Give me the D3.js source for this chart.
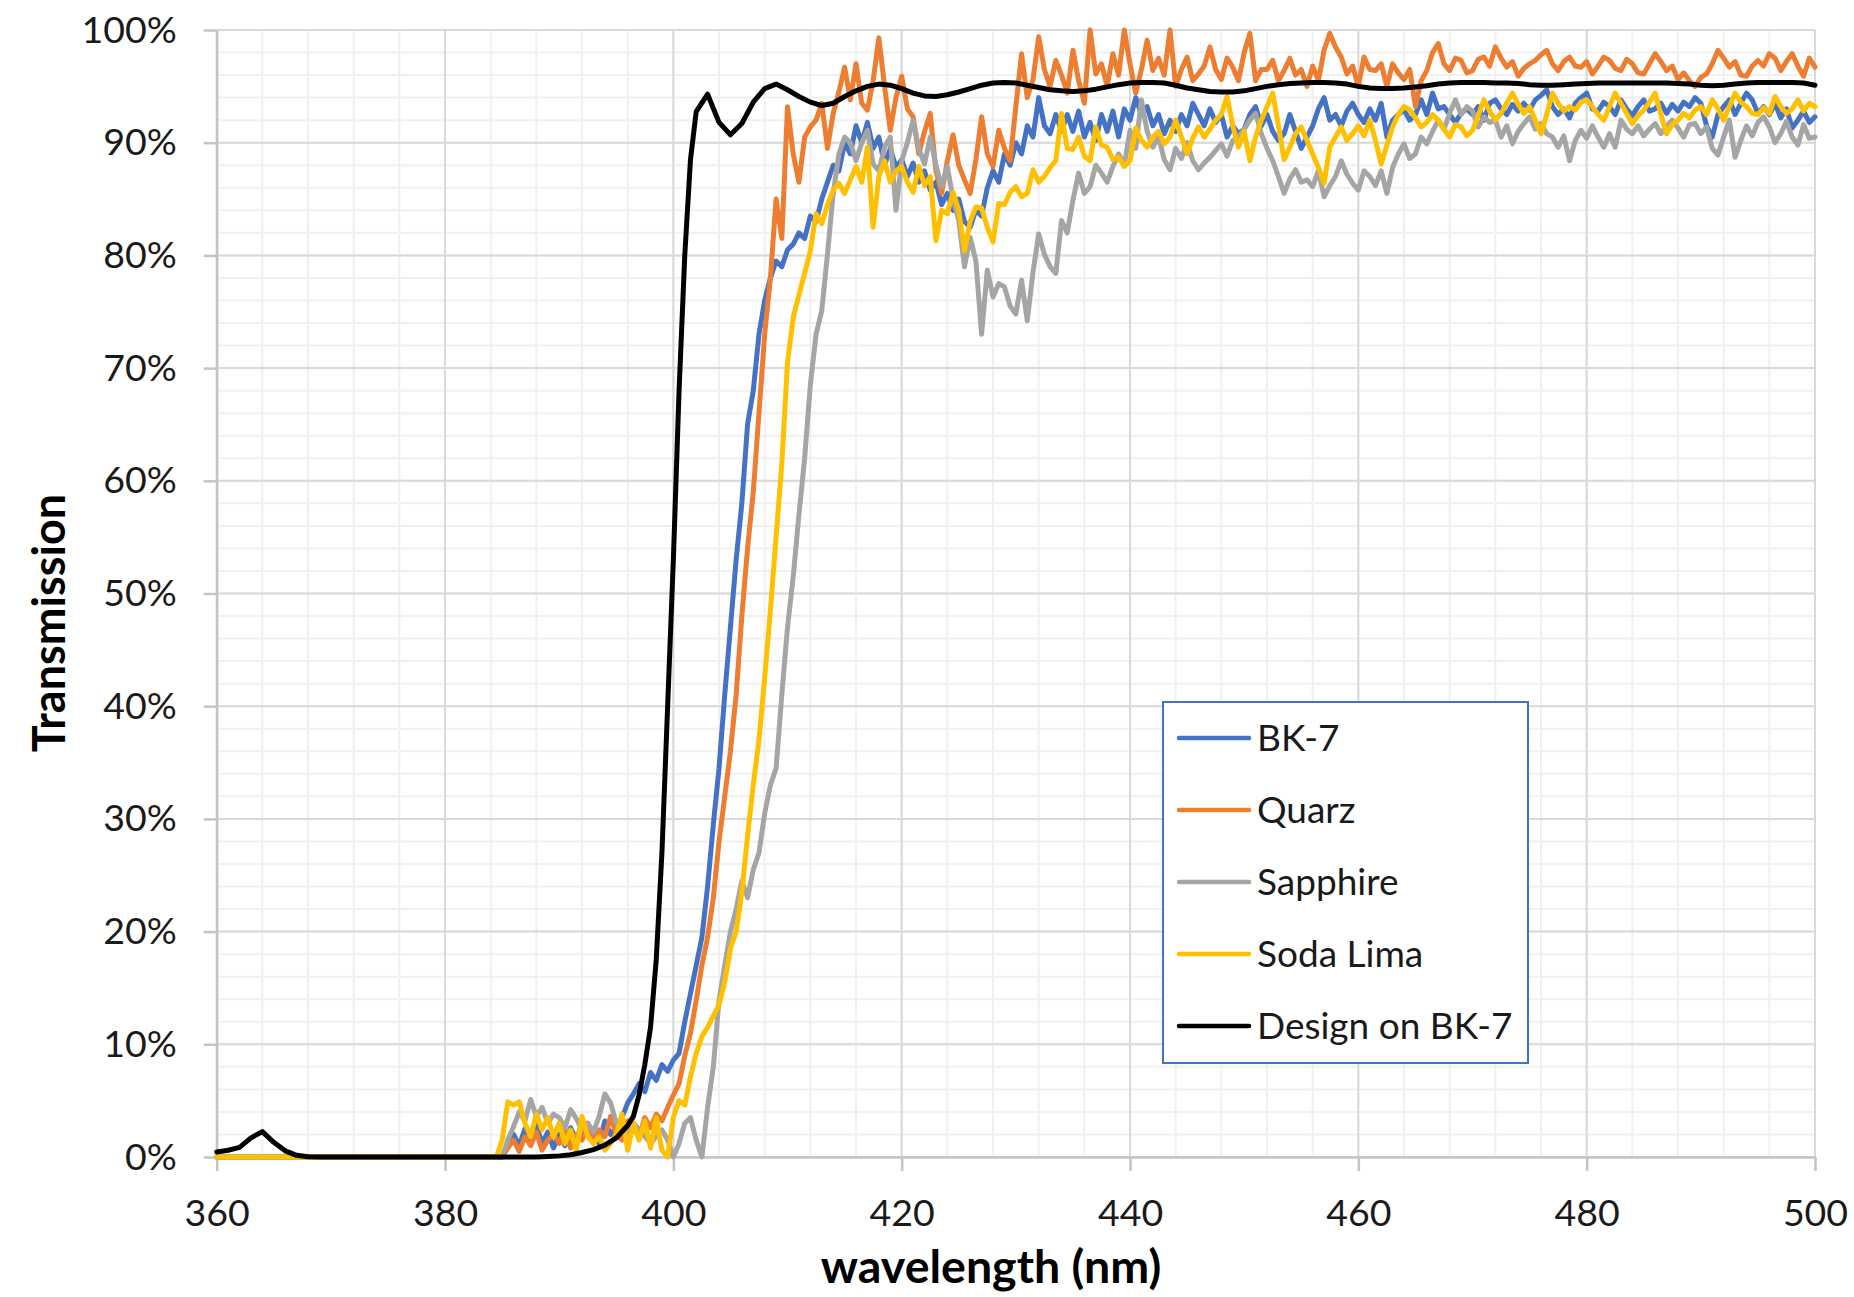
<!DOCTYPE html>
<html><head><meta charset="utf-8">
<script src="https://cdn.jsdelivr.net/npm/d3@7"></script>
<style>html,body{margin:0;padding:0;background:#fff;} svg{display:block}</style>
</head><body>
<svg id="chart" width="1854" height="1297"></svg>
<script>
// ---------------- DATA ----------------
const seriesNames = ["BK-7", "Quarz", "Sapphire", "Soda Lima", "Design on BK-7"];
const seriesColors = ["#4472C4", "#ED7D31", "#A5A5A5", "#FFC000", "#000000"];
const xTickValues = [360, 380, 400, 420, 440, 460, 480, 500];
const yTickValues = [0, 10, 20, 30, 40, 50, 60, 70, 80, 90, 100];

// measured spectra: 360 nm, 384.5 nm, then 385 ... 500 nm every 0.5 nm
const measuredWave = [360, 384.5].concat(d3.range(385, 500.001, 0.5));

const bk7 = [0, 0,
 0, 1.2, 2.0, 1.0, 2.5, 1.5, 2.8, 1.2, 2.2, 0.8,
 2.0, 1.0, 2.6, 1.5, 3.0, 1.8, 2.4, 1.2, 3.2, 2.0,
 2.6, 3.5, 4.8, 5.6, 6.5, 5.8, 7.5, 6.8, 8.2, 7.6,
 8.6, 9.2, 12, 14.5, 17, 19.5, 24, 29.5, 34.5, 41,
 47, 53, 58, 65, 68, 73, 76, 78, 79.5, 79,
 80.5, 81, 82, 81.5, 83.5, 83, 85, 86.5, 88, 87.5,
 90, 89, 91.5, 90, 91.8, 89.5, 90.5, 88, 89.5, 87.8,
 88.5, 87, 88.2, 86.5, 87.5, 85.8, 86.5, 84.5, 85.5, 84,
 85, 83, 82.5, 84, 83.5, 86, 87.5, 86.5, 89, 88,
 90, 89, 91.5, 90.5, 94, 91.5, 90.8, 92.5, 91, 92.5,
 91, 92.8, 90.5, 91.8, 90.2, 92.5, 91, 92.8, 90.5, 93,
 92, 94, 92.5, 93.2, 91.5, 92.5, 90.8, 92, 91, 92.5,
 91.5, 93.5, 92.5, 91.5, 93, 91.8, 92.5, 90.5, 91.5, 90.8,
 91.2, 92.5, 93.2, 91.5, 92.5, 91, 90.2, 90.8, 92.5, 91,
 89.5, 90.5, 91.5, 93, 94, 92, 92.5, 91.5, 92.8, 93.5,
 92.5, 91.8, 93, 92, 93.5, 90.5, 92, 92.5, 92.9, 92,
 92.5, 93.8, 92.5, 94.4, 93, 93.2, 92.5, 91.8, 92.6, 93,
 92.5, 93.2, 92, 93.5, 93.8, 93, 92.5, 93.4, 92.8, 93.5,
 92.9, 93.8, 94.2, 94.7, 93.2, 92.5, 93, 92.2, 93.5, 94,
 94.4, 93, 92.8, 93.6, 93.2, 92.5, 93.8, 93, 92.4, 93.2,
 93.8, 92.8, 93, 93.5, 92.6, 93.4, 92.8, 93.6, 93.2, 94,
 93.5, 91.5, 90.5, 92.5, 93.2, 93.8, 92.5, 93.5, 94.4, 93.8,
 92.6, 93.2, 92.5, 93.5, 92.2, 93, 91.3, 92, 92.8, 91.8,
 92.3];

const quarz = [0, 0,
 0, 0.8, 1.5, 0.5, 1.8, 1.0, 2.2, 0.6, 1.5, 2.0,
 1.2, 2.5, 0.8, 2.0, 1.5, 3.0, 1.2, 2.4, 1.8, 3.6,
 2.0, 1.5, 3.2, 2.5, 1.8, 3.5, 2.6, 3.8, 3.2, 4.4,
 5.5, 6.5, 9, 11, 13.9, 17, 19.5, 23, 28, 32,
 36, 41, 48, 54, 59, 66, 73, 78, 85, 81.5,
 93.2, 89, 86.5, 90.5, 91.4, 92, 93.5, 89.5, 92.6, 94.5,
 96.7, 93.8, 97, 93.5, 92.9, 95.5, 99.3, 95, 91.1, 94,
 95.9, 93, 92.3, 89, 91, 92.6, 87.5, 85.5, 88.4, 90.7,
 88, 86.7, 85.5, 88.5, 92.3, 89, 87.9, 91.1, 89.5, 88.4,
 93.2, 97.9, 94, 95.6, 99.4, 96.5, 95, 97.3, 96, 94.4,
 98.2, 95.5, 93.5, 100, 96.1, 97, 95, 97.9, 96, 100,
 97, 94.4, 96.5, 99.1, 96.4, 97.5, 96, 100, 95, 96.5,
 97.6, 95.5, 96.1, 96.8, 98.5, 96.5, 95.6, 97.5, 96.7, 95.5,
 98, 99.7, 95.5, 96.5, 96.5, 97.3, 95.5, 96.4, 97.5, 96,
 96.5, 95, 96.8, 95.5, 98.2, 99.7, 98.5, 97.6, 96.1, 96.8,
 95, 97.6, 96.5, 96.4, 97, 95, 97, 96.2, 95.6, 96.5,
 93.2, 95.5, 96.4, 98, 98.8, 97, 96.4, 97.5, 97.3, 96.2,
 96.4, 97.4, 97.6, 96.8, 98.5, 97.5, 96.7, 97.2, 95.9, 96.6,
 97, 97.3, 97.8, 98.2, 97, 96.4, 97.2, 97.6, 96.8, 96.7,
 97.2, 96.1, 96.8, 97.6, 97.3, 96.6, 96.4, 97.4, 97, 96.2,
 96.1, 97, 97.9, 97.2, 96.4, 96.8, 95.6, 96.2, 95.5, 95,
 95.8, 96.1, 97, 98.2, 97.5, 96.7, 97.2, 96, 95.9, 96.8,
 97.3, 96.8, 97.9, 97.5, 96.4, 97.2, 97.9, 96.8, 95.9, 97.5,
 96.7];

const sapphire = [0, 0,
 0, 1.5, 2.7, 4.0, 3.2, 5.1, 3.6, 4.4, 3.0, 3.8,
 3.5, 2.6, 4.2, 3.4, 2.4, 3.0, 2.2, 3.6, 5.6, 4.8,
 3.0, 2.4, 1.8, 3.0, 2.4, 1.8, 1.2, 1.8, 2.4, 1.5,
 0, 1.2, 3.0, 3.5, 1.5, 0, 4.4, 8, 13.9, 17,
 20, 22, 24.5, 23, 25.5, 27, 30.5, 33, 34.5, 41,
 47, 51.5, 57, 62, 68.5, 73, 75.1, 80.1, 85.5, 89,
 90.5, 90, 88.4, 90, 91.1, 88.1, 87.5, 89.6, 90.5, 84,
 88.4, 90, 92, 89.5, 88.1, 90.5, 88, 86.1, 87.9, 85,
 83.1, 79, 81.6, 79.5, 73, 78.7, 76.3, 77.5, 77.2, 75.5,
 74.8, 77.8, 74.2, 78.5, 81.9, 80.1, 79, 78.4, 83.1, 82,
 84.9, 87.3, 85.5, 86.1, 88, 87.3, 86.5, 87.9, 89, 88,
 91.1, 89.5, 93.8, 91, 89.6, 90.5, 88.5, 87.6, 89.5, 88.6,
 90, 88.4, 87.6, 88.2, 88.7, 89.3, 89.9, 88.8, 90.2, 90.5,
 91.2, 92, 92.6, 90.8, 89.5, 88.4, 87, 85.5, 86.8, 87.6,
 86.5, 86.7, 86.1, 87.5, 85.2, 86.2, 87, 88.4, 87.2, 86.4,
 85.8, 87.5, 87, 86.2, 87.5, 85.5, 87.8, 89, 89.9, 88.6,
 89, 90.5, 89.9, 91, 92, 91.2, 92.6, 93.8, 92.5, 93.2,
 92.8, 91.4, 92.3, 91.8, 92, 90.5, 91.5, 89.9, 91, 91.7,
 92.3, 91.2, 91.7, 90.8, 90.5, 89.6, 90.6, 88.4, 90.2, 91.1,
 90.4, 91.5, 90.5, 89.6, 90.8, 89.6, 92, 91.2, 90.8, 91.5,
 90.6, 91.2, 91.7, 90.8, 91.5, 92, 91.3, 90.5, 91.6, 91.7,
 90.8, 91.4, 89.5, 88.9, 90.5, 92, 88.7, 90.2, 91.5, 90.6,
 91.8, 92.3, 91.4, 90, 90.8, 91.9, 90.5, 89.8, 91.6, 90.4,
 90.5];

const sodaLima = [0, 0,
 1.5, 4.9, 4.6, 4.9, 3.0, 1.8, 3.8, 2.4, 3.5, 1.8,
 3.0, 1.2, 2.4, 0.6, 3.6, 1.8, 1.2, 1.8, 0.6, 1.2,
 2.0, 3.8, 0.6, 3.0, 1.5, 3.2, 0.8, 3.5, 0.6, 0,
 3.5, 5.0, 4.6, 7.1, 9.2, 10.7, 11.5, 12.5, 13.5, 15.5,
 18.5, 20, 23.5, 28.5, 33, 37, 42.5, 48.5, 55, 61.5,
 70.5, 74.5, 76.5, 78.4, 80.4, 83.7, 82.8, 84.5, 85.8, 86.4,
 85.5, 86.7, 87.9, 86.5, 89.6, 82.5, 87, 88.4, 86.5, 87.5,
 87.9, 86.5, 85.6, 87.9, 86.2, 87, 81.3, 84, 83.7, 85.6,
 84, 80.4, 83, 84.3, 84.2, 82.5, 81.2, 84.6, 84.5, 85.6,
 86.1, 85.2, 85.5, 87.6, 86.5, 87, 87.8, 88.4, 92.6, 89.5,
 89.4, 90.5, 88.8, 88.4, 91.4, 89.8, 89.6, 88.5, 88.7, 87.9,
 88.4, 91.3, 90.2, 89.6, 90.5, 91, 89.9, 90.5, 92, 90.5,
 89, 90.4, 91.4, 90.5, 91.2, 92, 92.5, 94.1, 91.5, 89.6,
 91, 88.4, 90.5, 92, 93.2, 94.4, 91.5, 88.5, 89.6, 90.8,
 91.4, 90.2, 89, 87.8, 86.4, 89.6, 90.5, 91.4, 90.2, 90.8,
 91.5, 90.6, 92, 90.2, 88.1, 89.8, 91.4, 92.5, 93.2, 92.9,
 92.2, 91.4, 91.8, 92.5, 92, 91.2, 90.5, 91.6, 91.4, 90.6,
 91.1, 92.4, 93.8, 92.8, 92, 92.6, 93.5, 94.4, 93.4, 92.6,
 93.2, 92, 90.8, 92.5, 94.4, 93.5, 92.8, 93.2, 92.9, 93.6,
 93.8, 93.2, 92.5, 92, 93.2, 94.4, 93.5, 92.6, 91.7, 92.4,
 92.9, 93.6, 94.4, 92.5, 90.8, 91.6, 92, 92.6, 92.2, 92.9,
 93.2, 92.5, 93.8, 93, 92, 93.2, 94.4, 93.6, 93.2, 92.6,
 92.5, 93.1, 92.6, 94.1, 93.2, 92.6, 93, 93.8, 92.8, 93.5,
 93.2];

// design curve
const designWave = [360, 361, 362, 363, 364, 365, 366, 367, 368, 369, 388, 389, 390, 391, 392, 393, 394, 395,
  396, 396.5, 397, 397.5, 398, 398.5, 399, 399.5, 400, 400.5, 401, 401.5].concat(d3.range(402, 500.001, 1));
const design = [0.45, 0.6, 0.85, 1.7, 2.25, 1.3, 0.55, 0.15, 0.03, 0, 0, 0.05, 0.1, 0.2, 0.4, 0.65, 1.05, 1.7,
  2.8, 3.6, 5.5, 8.2, 11.5, 17.5, 27, 40, 53, 68, 80, 88.5,
  92.75, 94.3, 91.8, 90.7, 91.7, 93.6, 94.8, 95.2, 94.7, 94.1,
  93.6, 93.3, 93.5, 94.1, 94.6, 95.0, 95.2, 95.1, 94.8, 94.4,
  94.15, 94.1, 94.25, 94.5, 94.8, 95.1, 95.3, 95.35, 95.3, 95.1,
  94.9, 94.7, 94.6, 94.55, 94.6, 94.75, 94.95, 95.15, 95.3, 95.35,
  95.35, 95.3, 95.1, 94.85, 94.7, 94.55, 94.5, 94.5, 94.6, 94.8,
  95.0, 95.15, 95.25, 95.3, 95.35, 95.35, 95.3, 95.2, 95.0, 94.85,
  94.8, 94.8, 94.85, 94.95, 95.05, 95.2, 95.3, 95.35, 95.35, 95.35,
  95.3, 95.3, 95.25, 95.15, 95.1, 95.1, 95.15, 95.2, 95.25, 95.3,
  95.3, 95.3, 95.3, 95.3, 95.3, 95.3, 95.25, 95.2, 95.1, 95.05,
  95.1, 95.2, 95.3, 95.35, 95.35, 95.35, 95.35, 95.3, 95.1];

const seriesData = [
  {wave: measuredWave, vals: bk7},
  {wave: measuredWave, vals: quarz},
  {wave: measuredWave, vals: sapphire},
  {wave: measuredWave, vals: sodaLima},
  {wave: designWave, vals: design}
];

// ---------------- CHART ----------------
const svg = d3.select("#chart");
const W = 1854, H = 1297;
const plot = {left: 216.7, right: 1815, top: 30, bottom: 1157};
const FONT = "Lato, 'Open Sans', sans-serif";

const x = d3.scaleLinear().domain([360, 500]).range([plot.left, plot.right]);
const y = d3.scaleLinear().domain([0, 100]).range([plot.bottom, plot.top]);

svg.append("rect").attr("width", W).attr("height", H).attr("fill", "#fff");

const grid = svg.append("g");
// minor gridlines
grid.selectAll("line.vminor").data(d3.range(360, 500.001, 4)).join("line")
  .attr("x1", d => x(d)).attr("x2", d => x(d)).attr("y1", plot.top).attr("y2", plot.bottom)
  .attr("stroke", "#f0f0f0").attr("stroke-width", 2);
grid.selectAll("line.hminor").data(d3.range(0, 100.001, 2)).join("line")
  .attr("y1", d => y(d)).attr("y2", d => y(d)).attr("x1", plot.left).attr("x2", plot.right)
  .attr("stroke", "#f0f0f0").attr("stroke-width", 2);
// major gridlines
grid.selectAll("line.vmajor").data(xTickValues).join("line")
  .attr("x1", d => x(d)).attr("x2", d => x(d)).attr("y1", plot.top).attr("y2", plot.bottom)
  .attr("stroke", "#d9d9d9").attr("stroke-width", 2);
grid.selectAll("line.hmajor").data(yTickValues).join("line")
  .attr("y1", d => y(d)).attr("y2", d => y(d)).attr("x1", plot.left).attr("x2", plot.right)
  .attr("stroke", "#d9d9d9").attr("stroke-width", 2);

// axes
const yAxis = d3.axisLeft(y).tickValues(yTickValues).tickFormat(d => d + "%")
  .tickSize(13).tickSizeOuter(0).tickPadding(27);
const gy = svg.append("g").attr("transform", `translate(${plot.left},0)`).call(yAxis);
const xAxis = d3.axisBottom(x).tickValues(xTickValues).tickFormat(d3.format("d"))
  .tickSize(14).tickSizeOuter(0).tickPadding(28);
const gx = svg.append("g").attr("transform", `translate(0,${plot.bottom})`).call(xAxis);
[gx, gy].forEach(g => {
  g.select(".domain").attr("stroke", "#c4c4c4").attr("stroke-width", 2.5);
  g.selectAll(".tick line").attr("stroke", "#c4c4c4").attr("stroke-width", 2.5);
  g.selectAll(".tick text").attr("font-family", FONT).attr("font-size", 37.5).attr("fill", "#1a1a1a");
});

// series
const line = d3.line().x(d => x(d[0])).y(d => y(d[1]));
const gs = svg.append("g");
seriesData.forEach((s, i) => {
  const n = Math.min(s.wave.length, s.vals.length);
  const pts = d3.range(n).map(k => [s.wave[k], s.vals[k]]);
  gs.append("path").datum(pts).attr("d", line)
    .attr("fill", "none").attr("stroke", seriesColors[i])
    .attr("stroke-width", 5)
    .attr("stroke-linejoin", "round").attr("stroke-linecap", "round");
});

// axis titles
svg.append("text").attr("x", 991).attr("y", 1283).attr("text-anchor", "middle")
  .attr("font-family", FONT).attr("font-weight", "bold").attr("font-size", 46.5).attr("fill", "#000")
  .text("wavelength (nm)");
svg.append("text").attr("transform", "translate(65,623) rotate(-90)").attr("text-anchor", "middle")
  .attr("font-family", FONT).attr("font-weight", "bold").attr("font-size", 45).attr("fill", "#000")
  .text("Transmission");

// legend
const lg = svg.append("g");
lg.append("rect").attr("x", 1163).attr("y", 702).attr("width", 365).attr("height", 361)
  .attr("fill", "#fff").attr("stroke", "#4472C4").attr("stroke-width", 2);
const rowY = [738, 810, 882, 954, 1026];
seriesNames.forEach((name, i) => {
  lg.append("line").attr("x1", 1179).attr("x2", 1249).attr("y1", rowY[i]).attr("y2", rowY[i])
    .attr("stroke", seriesColors[i]).attr("stroke-width", 4.5).attr("stroke-linecap", "round");
  lg.append("text").attr("x", 1257).attr("y", rowY[i] + 13)
    .attr("font-family", FONT).attr("font-size", 37).attr("fill", "#1a1a1a").text(name);
});
</script>
</body></html>
